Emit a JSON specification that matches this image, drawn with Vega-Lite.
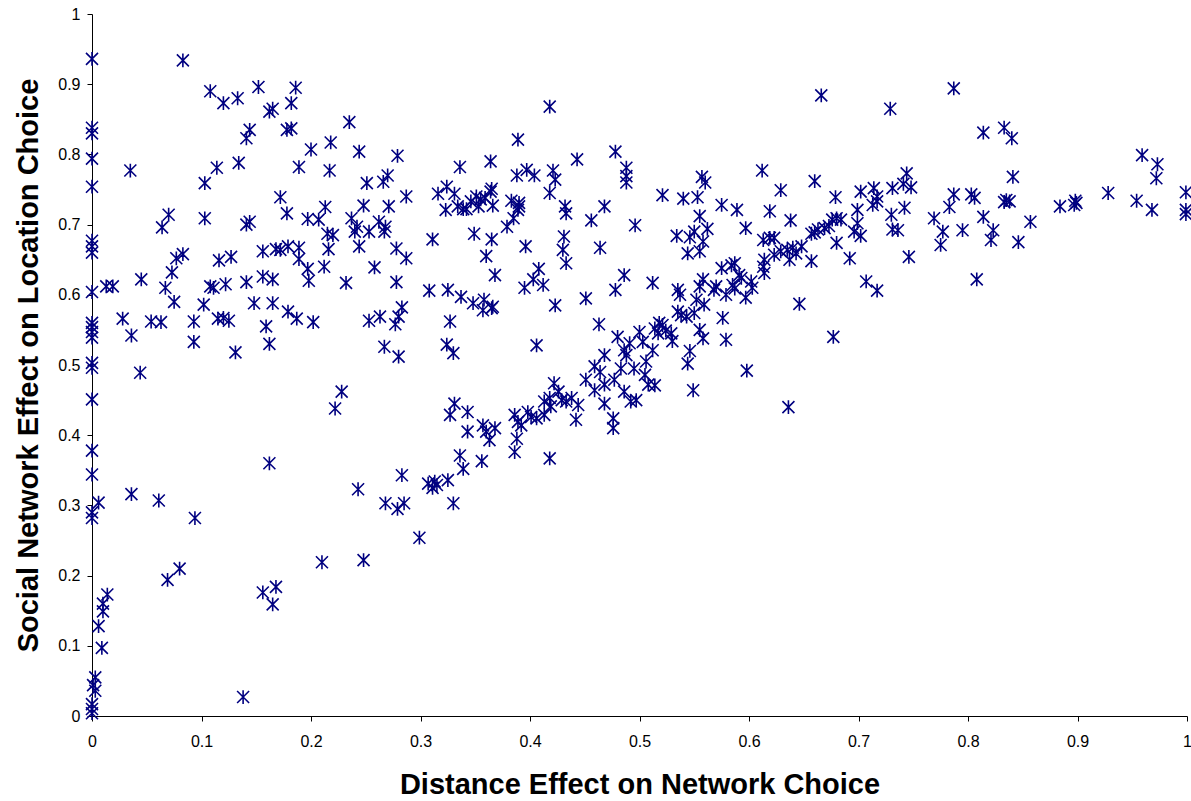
{
  "$schema": "https://vega.github.io/schema/vega-lite/v6.json",
  "width": 1095,
  "height": 702,
  "autosize": {"type": "none"},
  "padding": {"left": 92, "top": 14, "right": 4, "bottom": 85},
  "background": "white",
  "config": {
    "view": {"stroke": null},
    "font": "Liberation Sans",
    "axis": {
      "grid": false,
      "domainColor": "#000000",
      "tickColor": "#000000",
      "labelColor": "#000000",
      "titleColor": "#000000",
      "labelFont": "Liberation Sans",
      "titleFont": "Liberation Sans",
      "labelFontSize": 16,
      "titleFontSize": 29,
      "titleFontWeight": "bold",
      "tickSize": 5,
      "domainWidth": 1,
      "tickWidth": 1
    }
  },
  "data": {
    "values": [
      {"x":0,"y":0.936},{"x":0,"y":0.838},{"x":0,"y":0.830},{"x":0,"y":0.794},{"x":0,"y":0.754},{"x":0,"y":0.677},{"x":0,"y":0.669},{"x":0,"y":0.660},{"x":0,"y":0.604},{"x":0,"y":0.560},{"x":0,"y":0.554},{"x":0,"y":0.547},{"x":0,"y":0.539},{"x":0,"y":0.503},{"x":0,"y":0.496},{"x":0,"y":0.451},{"x":0,"y":0.378},{"x":0,"y":0.344},{"x":0,"y":0.290},{"x":0,"y":0.282},{"x":0.003,"y":0.055},{"x":0.001,"y":0.044},{"x":0.003,"y":0.036},{"x":0,"y":0.017},{"x":0,"y":0.010},{"x":0,"y":0.004},
      {"x":0.006,"y":0.304},{"x":0.036,"y":0.316},{"x":0.061,"y":0.307},{"x":0.094,"y":0.282},{"x":0.069,"y":0.194},{"x":0.080,"y":0.210},{"x":0.014,"y":0.173},{"x":0.010,"y":0.160},{"x":0.010,"y":0.149},{"x":0.006,"y":0.128},{"x":0.009,"y":0.097},{"x":0.138,"y":0.027},{"x":0.156,"y":0.176},{"x":0.168,"y":0.184},{"x":0.165,"y":0.159},{"x":0.210,"y":0.219},{"x":0.248,"y":0.222},{"x":0.243,"y":0.323},
      {"x":0.013,"y":0.612},{"x":0.019,"y":0.612},{"x":0.045,"y":0.622},{"x":0.073,"y":0.632},{"x":0.077,"y":0.652},{"x":0.083,"y":0.658},{"x":0.067,"y":0.610},{"x":0.075,"y":0.590},{"x":0.028,"y":0.566},{"x":0.036,"y":0.542},{"x":0.054,"y":0.562},{"x":0.063,"y":0.561},{"x":0.044,"y":0.489},{"x":0.093,"y":0.562},{"x":0.093,"y":0.533},{"x":0.102,"y":0.586},{"x":0.108,"y":0.612},{"x":0.111,"y":0.610},{"x":0.116,"y":0.649},{"x":0.127,"y":0.654},{"x":0.122,"y":0.615},{"x":0.141,"y":0.618},{"x":0.115,"y":0.566},{"x":0.120,"y":0.567},{"x":0.125,"y":0.563},{"x":0.131,"y":0.518},{"x":0.156,"y":0.662},{"x":0.168,"y":0.665},{"x":0.172,"y":0.664},{"x":0.179,"y":0.669},{"x":0.189,"y":0.667},{"x":0.216,"y":0.665},{"x":0.244,"y":0.669},{"x":0.156,"y":0.626},{"x":0.165,"y":0.622},{"x":0.189,"y":0.651},{"x":0.197,"y":0.637},{"x":0.198,"y":0.620},{"x":0.212,"y":0.640},{"x":0.232,"y":0.617},{"x":0.148,"y":0.588},{"x":0.165,"y":0.588},{"x":0.159,"y":0.555},{"x":0.162,"y":0.530},{"x":0.179,"y":0.576},{"x":0.187,"y":0.566},{"x":0.202,"y":0.561},{"x":0.253,"y":0.563},{"x":0.162,"y":0.360},{"x":0.228,"y":0.462},{"x":0.222,"y":0.438},
      {"x":0.083,"y":0.934},{"x":0.108,"y":0.890},{"x":0.120,"y":0.873},{"x":0.133,"y":0.880},{"x":0.152,"y":0.896},{"x":0.186,"y":0.895},{"x":0.162,"y":0.861},{"x":0.165,"y":0.865},{"x":0.182,"y":0.873},{"x":0.144,"y":0.835},{"x":0.141,"y":0.823},{"x":0.178,"y":0.835},{"x":0.182,"y":0.837},{"x":0.235,"y":0.846},{"x":0.035,"y":0.777},{"x":0.114,"y":0.781},{"x":0.134,"y":0.788},{"x":0.103,"y":0.759},{"x":0.200,"y":0.807},{"x":0.218,"y":0.817},{"x":0.244,"y":0.804},{"x":0.189,"y":0.782},{"x":0.217,"y":0.777},{"x":0.251,"y":0.759},{"x":0.172,"y":0.739},{"x":0.178,"y":0.716},{"x":0.213,"y":0.725},{"x":0.248,"y":0.727},{"x":0.070,"y":0.714},{"x":0.064,"y":0.696},{"x":0.103,"y":0.709},{"x":0.141,"y":0.700},{"x":0.144,"y":0.704},{"x":0.197,"y":0.708},{"x":0.207,"y":0.707},{"x":0.237,"y":0.709},{"x":0.242,"y":0.697},{"x":0.240,"y":0.690},{"x":0.215,"y":0.687},{"x":0.220,"y":0.685},{"x":0.253,"y":0.690},
      {"x":0.418,"y":0.868},{"x":0.389,"y":0.821},{"x":0.279,"y":0.798},{"x":0.364,"y":0.790},{"x":0.336,"y":0.782},{"x":0.443,"y":0.793},{"x":0.478,"y":0.804},{"x":0.488,"y":0.781},{"x":0.488,"y":0.769},{"x":0.488,"y":0.760},{"x":0.397,"y":0.778},{"x":0.404,"y":0.770},{"x":0.388,"y":0.770},{"x":0.421,"y":0.777},{"x":0.423,"y":0.764},{"x":0.418,"y":0.745},{"x":0.266,"y":0.761},{"x":0.270,"y":0.770},{"x":0.287,"y":0.740},{"x":0.271,"y":0.726},{"x":0.262,"y":0.704},{"x":0.268,"y":0.697},{"x":0.267,"y":0.690},{"x":0.311,"y":0.679},{"x":0.349,"y":0.687},{"x":0.365,"y":0.679},{"x":0.431,"y":0.683},{"x":0.456,"y":0.706},{"x":0.468,"y":0.726},{"x":0.496,"y":0.699},{"x":0.432,"y":0.726},{"x":0.433,"y":0.716},{"x":0.379,"y":0.697},{"x":0.385,"y":0.709},{"x":0.383,"y":0.734},{"x":0.390,"y":0.731},{"x":0.389,"y":0.721},{"x":0.390,"y":0.726},{"x":0.316,"y":0.744},{"x":0.324,"y":0.754},{"x":0.331,"y":0.744},{"x":0.323,"y":0.721},{"x":0.334,"y":0.726},{"x":0.339,"y":0.722},{"x":0.342,"y":0.722},{"x":0.346,"y":0.733},{"x":0.351,"y":0.740},{"x":0.355,"y":0.736},{"x":0.359,"y":0.738},{"x":0.364,"y":0.747},{"x":0.365,"y":0.751},{"x":0.366,"y":0.727},{"x":0.353,"y":0.726},
      {"x":0.666,"y":0.884},{"x":0.729,"y":0.865},{"x":0.612,"y":0.777},{"x":0.660,"y":0.762},{"x":0.557,"y":0.768},{"x":0.560,"y":0.760},{"x":0.521,"y":0.742},{"x":0.540,"y":0.737},{"x":0.553,"y":0.739},{"x":0.629,"y":0.749},{"x":0.679,"y":0.739},{"x":0.575,"y":0.728},{"x":0.589,"y":0.721},{"x":0.619,"y":0.719},{"x":0.638,"y":0.706},{"x":0.597,"y":0.695},{"x":0.555,"y":0.712},{"x":0.534,"y":0.684},{"x":0.546,"y":0.682},{"x":0.550,"y":0.690},{"x":0.562,"y":0.694},{"x":0.558,"y":0.676},{"x":0.702,"y":0.747},{"x":0.714,"y":0.752},{"x":0.717,"y":0.740},{"x":0.731,"y":0.752},{"x":0.741,"y":0.758},{"x":0.748,"y":0.753},{"x":0.744,"y":0.773},{"x":0.699,"y":0.721},{"x":0.713,"y":0.728},{"x":0.717,"y":0.733},{"x":0.742,"y":0.724},{"x":0.730,"y":0.714},{"x":0.699,"y":0.702},{"x":0.696,"y":0.690},{"x":0.702,"y":0.684},{"x":0.731,"y":0.693},{"x":0.736,"y":0.692},{"x":0.676,"y":0.707},{"x":0.680,"y":0.709},{"x":0.684,"y":0.707},{"x":0.673,"y":0.698},{"x":0.669,"y":0.695},{"x":0.663,"y":0.693},{"x":0.660,"y":0.689},{"x":0.657,"y":0.687},{"x":0.680,"y":0.674},{"x":0.613,"y":0.678},{"x":0.619,"y":0.681},{"x":0.623,"y":0.681},
      {"x":0.787,"y":0.894},{"x":0.814,"y":0.831},{"x":0.833,"y":0.838},{"x":0.840,"y":0.823},{"x":0.841,"y":0.768},{"x":0.959,"y":0.799},{"x":0.973,"y":0.786},{"x":0.972,"y":0.766},{"x":0.787,"y":0.743},{"x":0.803,"y":0.743},{"x":0.806,"y":0.738},{"x":0.783,"y":0.725},{"x":0.769,"y":0.709},{"x":0.814,"y":0.711},{"x":0.835,"y":0.735},{"x":0.838,"y":0.733},{"x":0.833,"y":0.732},{"x":0.857,"y":0.704},{"x":0.884,"y":0.726},{"x":0.898,"y":0.734},{"x":0.897,"y":0.728},{"x":0.899,"y":0.731},{"x":0.928,"y":0.745},{"x":0.954,"y":0.734},{"x":0.968,"y":0.721},{"x":0.999,"y":0.746},{"x":0.999,"y":0.721},{"x":0.999,"y":0.715},{"x":0.777,"y":0.690},{"x":0.795,"y":0.692},{"x":0.823,"y":0.692},{"x":0.821,"y":0.678},{"x":0.846,"y":0.675},{"x":0.775,"y":0.671},{"x":0.808,"y":0.622},
      {"x":0.746,"y":0.654},{"x":0.707,"y":0.619},{"x":0.717,"y":0.606},{"x":0.646,"y":0.587},{"x":0.677,"y":0.540},{"x":0.598,"y":0.492},{"x":0.636,"y":0.440},{"x":0.692,"y":0.652},{"x":0.657,"y":0.648},{"x":0.629,"y":0.662},{"x":0.635,"y":0.664},{"x":0.640,"y":0.667},{"x":0.643,"y":0.659},{"x":0.648,"y":0.669},{"x":0.637,"y":0.650},{"x":0.623,"y":0.657},{"x":0.614,"y":0.650},{"x":0.614,"y":0.631},{"x":0.613,"y":0.640},{"x":0.544,"y":0.659},{"x":0.555,"y":0.662},{"x":0.512,"y":0.617},{"x":0.575,"y":0.638},{"x":0.584,"y":0.642},{"x":0.587,"y":0.645},{"x":0.591,"y":0.628},{"x":0.593,"y":0.624},{"x":0.602,"y":0.619},{"x":0.603,"y":0.610},{"x":0.558,"y":0.622},{"x":0.555,"y":0.612},{"x":0.570,"y":0.612},{"x":0.568,"y":0.607},{"x":0.579,"y":0.600},{"x":0.587,"y":0.609},{"x":0.585,"y":0.614},{"x":0.597,"y":0.596},{"x":0.552,"y":0.593},{"x":0.559,"y":0.586},{"x":0.535,"y":0.607},{"x":0.537,"y":0.600},{"x":0.535,"y":0.576},{"x":0.538,"y":0.571},{"x":0.543,"y":0.569},{"x":0.550,"y":0.574},{"x":0.576,"y":0.567},{"x":0.518,"y":0.560},{"x":0.521,"y":0.557},{"x":0.514,"y":0.552},{"x":0.517,"y":0.545},{"x":0.524,"y":0.549},{"x":0.529,"y":0.545},{"x":0.555,"y":0.550},{"x":0.558,"y":0.538},{"x":0.579,"y":0.536},{"x":0.512,"y":0.521},{"x":0.530,"y":0.534},{"x":0.546,"y":0.520},{"x":0.544,"y":0.502},{"x":0.506,"y":0.505},{"x":0.505,"y":0.486},{"x":0.508,"y":0.472},{"x":0.514,"y":0.471},{"x":0.549,"y":0.464},
      {"x":0.278,"y":0.666},{"x":0.287,"y":0.652},{"x":0.258,"y":0.639},{"x":0.278,"y":0.618},{"x":0.308,"y":0.606},{"x":0.325,"y":0.607},{"x":0.337,"y":0.597},{"x":0.348,"y":0.588},{"x":0.358,"y":0.593},{"x":0.357,"y":0.578},{"x":0.365,"y":0.581},{"x":0.366,"y":0.583},{"x":0.360,"y":0.655},{"x":0.368,"y":0.628},{"x":0.396,"y":0.669},{"x":0.430,"y":0.664},{"x":0.433,"y":0.645},{"x":0.464,"y":0.667},{"x":0.408,"y":0.637},{"x":0.403,"y":0.622},{"x":0.412,"y":0.614},{"x":0.395,"y":0.610},{"x":0.423,"y":0.585},{"x":0.451,"y":0.595},{"x":0.478,"y":0.607},{"x":0.486,"y":0.628},{"x":0.463,"y":0.558},{"x":0.263,"y":0.569},{"x":0.277,"y":0.558},{"x":0.280,"y":0.569},{"x":0.283,"y":0.582},{"x":0.267,"y":0.526},{"x":0.280,"y":0.512},{"x":0.327,"y":0.562},{"x":0.324,"y":0.529},{"x":0.330,"y":0.517},{"x":0.406,"y":0.528},
      {"x":0.480,"y":0.540},{"x":0.491,"y":0.531},{"x":0.500,"y":0.547},{"x":0.503,"y":0.533},{"x":0.486,"y":0.521},{"x":0.488,"y":0.514},{"x":0.468,"y":0.514},{"x":0.483,"y":0.495},{"x":0.495,"y":0.495},{"x":0.459,"y":0.498},{"x":0.464,"y":0.490},{"x":0.451,"y":0.479},{"x":0.459,"y":0.464},{"x":0.468,"y":0.472},{"x":0.477,"y":0.479},{"x":0.486,"y":0.462},{"x":0.468,"y":0.445},{"x":0.492,"y":0.448},{"x":0.497,"y":0.450},{"x":0.422,"y":0.474},{"x":0.426,"y":0.462},{"x":0.429,"y":0.450},{"x":0.433,"y":0.448},{"x":0.438,"y":0.453},{"x":0.444,"y":0.443},{"x":0.418,"y":0.453},{"x":0.413,"y":0.448},{"x":0.419,"y":0.441},{"x":0.413,"y":0.429},{"x":0.442,"y":0.422},{"x":0.476,"y":0.424},{"x":0.476,"y":0.410},{"x":0.418,"y":0.367},
      {"x":0.386,"y":0.429},{"x":0.389,"y":0.419},{"x":0.392,"y":0.414},{"x":0.398,"y":0.433},{"x":0.401,"y":0.426},{"x":0.406,"y":0.424},{"x":0.388,"y":0.395},{"x":0.386,"y":0.376},{"x":0.331,"y":0.445},{"x":0.327,"y":0.429},{"x":0.343,"y":0.433},{"x":0.343,"y":0.405},{"x":0.357,"y":0.414},{"x":0.360,"y":0.405},{"x":0.363,"y":0.393},{"x":0.368,"y":0.410},{"x":0.336,"y":0.371},{"x":0.339,"y":0.352},{"x":0.356,"y":0.363},{"x":0.283,"y":0.343},{"x":0.307,"y":0.331},{"x":0.313,"y":0.334},{"x":0.315,"y":0.329},{"x":0.325,"y":0.336},{"x":0.311,"y":0.325},{"x":0.268,"y":0.303},{"x":0.279,"y":0.295},{"x":0.285,"y":0.303},{"x":0.330,"y":0.303},{"x":0.299,"y":0.254}
    ]
  },
  "mark": {
    "type": "point",
    "shape": "M-1,-1L1,1M-1,1L1,-1M0,-1.15L0,1.15",
    "filled": false,
    "stroke": "#000080",
    "strokeWidth": 1.6,
    "size": 144,
    "opacity": 1,
    "clip": false
  },
  "encoding": {
    "x": {
      "field": "x",
      "type": "quantitative",
      "scale": {"domain": [0, 1], "nice": false, "zero": true},
      "axis": {
        "values": [0, 0.1, 0.2, 0.3, 0.4, 0.5, 0.6, 0.7, 0.8, 0.9, 1],
        "format": "~g",
        "labelPadding": 12,
        "labelFlush": false,
        "title": "Distance Effect on Network Choice",
        "titlePadding": 21
      }
    },
    "y": {
      "field": "y",
      "type": "quantitative",
      "scale": {"domain": [0, 1], "nice": false, "zero": true},
      "axis": {
        "values": [0, 0.1, 0.2, 0.3, 0.4, 0.5, 0.6, 0.7, 0.8, 0.9, 1],
        "format": "~g",
        "labelPadding": 7,
        "labelFlush": false,
        "title": "Social Network Effect on Location Choice",
        "titlePadding": 14
      }
    }
  }
}
